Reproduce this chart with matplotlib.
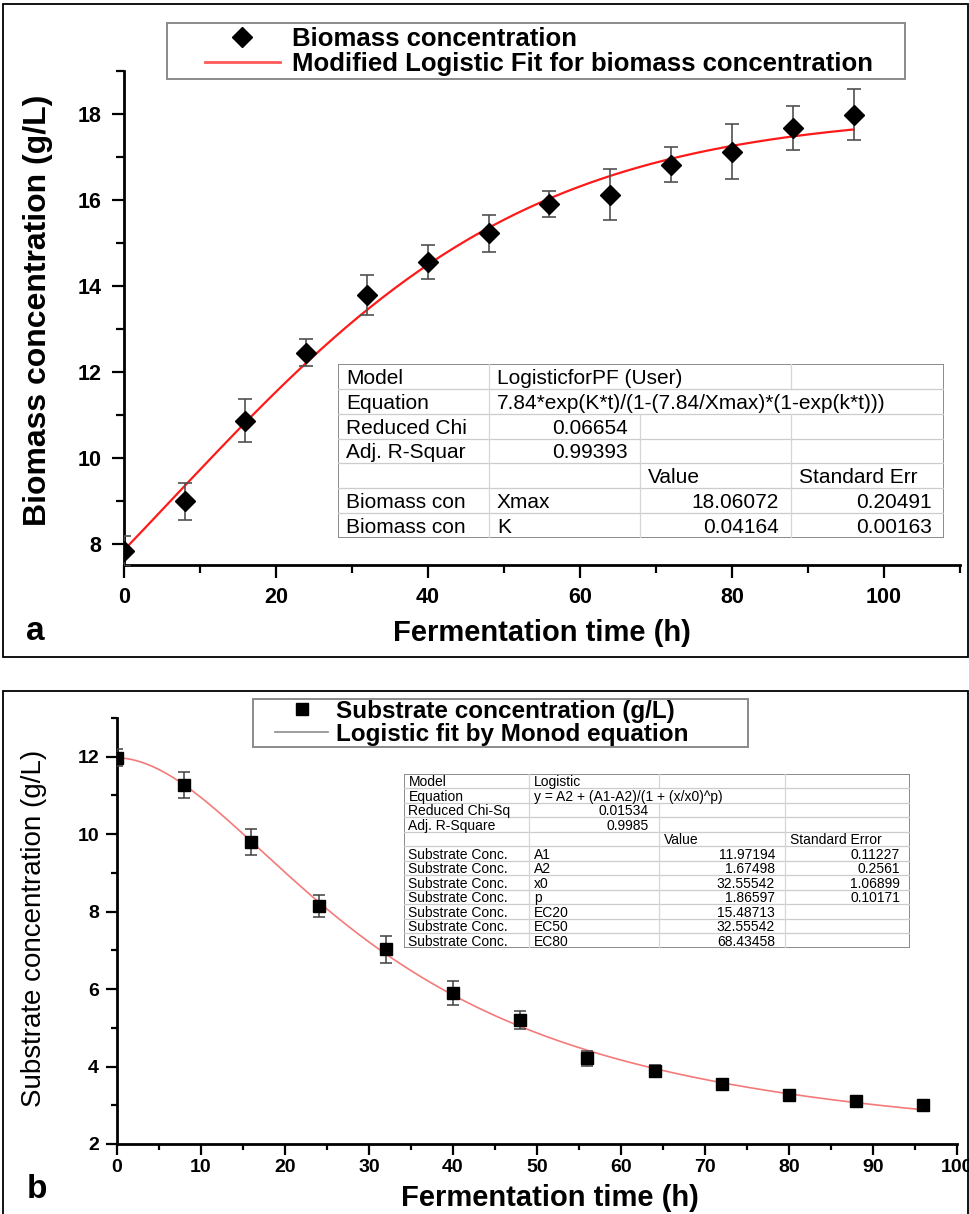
import numpy as np
import matplotlib.pyplot as plt
from matplotlib.patches import Rectangle
from matplotlib.lines import Line2D
from matplotlib.ticker import MultipleLocator

plt.rcParams['font.family'] = ['Liberation Sans', 'DejaVu Sans']

# ---- data ----
time_h = [0, 8, 16, 24, 32, 40, 48, 56, 64, 72, 80, 88, 96]
biomass = [7.83, 8.98, 10.86, 12.44, 13.78, 14.55, 15.22, 15.90, 16.12, 16.82, 17.12, 17.68, 17.98]
biomass_err = [0.35, 0.43, 0.50, 0.31, 0.47, 0.40, 0.43, 0.30, 0.60, 0.40, 0.64, 0.51, 0.59]
substrate = [11.98, 11.27, 9.80, 8.15, 7.03, 5.90, 5.21, 4.21, 3.89, 3.55, 3.27, 3.11, 3.00]
substrate_err = [0.22, 0.33, 0.33, 0.29, 0.35, 0.32, 0.23, 0.20, 0.15, 0.10, 0.08, 0.08, 0.05]

# fitted parameters shown in the tables
X0, Xmax, K = 7.84, 18.06072, 0.04164
A1, A2, x0, p = 11.97194, 1.67498, 32.55542, 1.86597

table_a_rows = [
    ["Model", "LogisticforPF (User)", "", ""],
    ["Equation", "7.84*exp(K*t)/(1-(7.84/Xmax)*(1-exp(k*t)))", "", ""],
    ["Reduced Chi", "0.06654", "", ""],
    ["Adj. R-Squar", "0.99393", "", ""],
    ["", "", "Value", "Standard Err"],
    ["Biomass con", "Xmax", "18.06072", "0.20491"],
    ["Biomass con", "K", "0.04164", "0.00163"],
]
table_b_rows = [
    ["Model", "Logistic", "", ""],
    ["Equation", "y = A2 + (A1-A2)/(1 + (x/x0)^p)", "", ""],
    ["Reduced Chi-Sq", "0.01534", "", ""],
    ["Adj. R-Square", "0.9985", "", ""],
    ["", "", "Value", "Standard Error"],
    ["Substrate Conc.", "A1", "11.97194", "0.11227"],
    ["Substrate Conc.", "A2", "1.67498", "0.2561"],
    ["Substrate Conc.", "x0", "32.55542", "1.06899"],
    ["Substrate Conc.", "p", "1.86597", "0.10171"],
    ["Substrate Conc.", "EC20", "15.48713", ""],
    ["Substrate Conc.", "EC50", "32.55542", ""],
    ["Substrate Conc.", "EC80", "68.43458", ""],
]

W, H = 970, 1214
fig = plt.figure(figsize=(W / 100, H / 100), dpi=100)


def box(x0p, y0p, x1p, y1p):
    # pixel box (top-left origin) -> figure fraction rect
    return [x0p / W, 1 - y1p / H, (x1p - x0p) / W, (y1p - y0p) / H]


def style_axis(ax, fs, major_len, minor_len, xpad, ypad):
    ax.spines['top'].set_visible(False)
    ax.spines['right'].set_visible(False)
    ax.spines['left'].set_linewidth(2)
    ax.spines['bottom'].set_linewidth(2)
    ax.tick_params(which='major', direction='out', length=major_len, width=1.6, labelsize=fs)
    ax.tick_params(which='minor', direction='out', length=minor_len, width=1.6)
    ax.tick_params(axis='x', pad=xpad)
    ax.tick_params(axis='y', pad=ypad)
    for lab in ax.get_xticklabels() + ax.get_yticklabels():
        lab.set_fontweight('bold')


def draw_table(x0p, y0p, x1p, y1p, cols, rows, skip, fs, pad_l, pad_r):
    tax = fig.add_axes(box(x0p, y0p, x1p, y1p))
    tax.set_xlim(x0p, x1p)
    tax.set_ylim(y1p, y0p)
    tax.axis('off')
    tax.add_patch(Rectangle((x0p, y0p), x1p - x0p, y1p - y0p, facecolor='white', edgecolor='none'))
    rh = (y1p - y0p) / len(rows)
    edges = [x0p] + cols + [x1p]
    for i, row in enumerate(rows):
        yt = y0p + i * rh
        if i > 0:
            tax.plot([x0p, x1p], [yt, yt], color='#cccccc', lw=0.9)
        for j, xb in enumerate(cols):
            if (i, j) not in skip:
                tax.plot([xb, xb], [yt, yt + rh], color='#d6d6d6', lw=0.9)
        for j, s in enumerate(row):
            if not s:
                continue
            try:
                float(s)
                tax.text(edges[j + 1] - pad_r, yt + rh / 2, s, ha='right',
                         va='center_baseline', fontsize=fs)
            except ValueError:
                tax.text(edges[j] + pad_l, yt + rh / 2, s, ha='left',
                         va='center_baseline', fontsize=fs)
    tax.add_patch(Rectangle((x0p, y0p), x1p - x0p, y1p - y0p, facecolor='none',
                            edgecolor='#8a8a8a', lw=1.4))


# panel frames
fig.add_artist(Rectangle((3 / W, 1 - 657 / H), 965 / W, 653 / H, transform=fig.transFigure,
                         facecolor='none', edgecolor='black', lw=1.3))
fig.add_artist(Rectangle((3 / W, 1 - 1240 / H), 965 / W, 549 / H, transform=fig.transFigure,
                         facecolor='none', edgecolor='black', lw=1.3))

# ---------------- panel a ----------------
ax_a = fig.add_axes(box(123.7, 71, 960, 565))
t_fit = np.linspace(0, 96, 300)
biomass_fit = X0 * np.exp(K * t_fit) / (1 - (X0 / Xmax) * (1 - np.exp(K * t_fit)))
ax_a.plot(t_fit, biomass_fit, color='#ff1a1a', lw=1.6, zorder=2)
ax_a.errorbar(time_h, biomass, yerr=biomass_err, fmt='none', ecolor='#505050',
              elinewidth=1.2, capsize=5, capthick=1.2, zorder=3)
ax_a.plot(time_h, biomass, ls='none', marker='D', ms=10.5, color='black', zorder=4)
ax_a.set_xlim(0, 110)
ax_a.set_ylim(7.5, 19)
ax_a.xaxis.set_major_locator(MultipleLocator(20))
ax_a.xaxis.set_minor_locator(MultipleLocator(10))
ax_a.yaxis.set_major_locator(MultipleLocator(2))
ax_a.yaxis.set_minor_locator(MultipleLocator(1))
style_axis(ax_a, 15.5, 9, 5.5, 7, 7)
ax_a.set_xlabel('Fermentation time (h)', fontsize=21, fontweight='bold')
ax_a.xaxis.set_label_coords(0.5, -0.11)
ax_a.set_ylabel('Biomass concentration (g/L)', fontsize=23, fontweight='bold')
ax_a.yaxis.set_label_coords(-0.085, 0.515)

handles_a = [Line2D([], [], ls='none', marker='D', ms=10.5, color='black'),
             Line2D([], [], color='#ff5a5a', lw=2)]
fig.add_artist(Rectangle((167 / W, 1 - 79 / H), 738 / W, 56 / H, transform=fig.transFigure,
                         facecolor='white', edgecolor='#8a8a8a', lw=1.4))
fig.legend(handles_a, ['Biomass concentration', 'Modified Logistic Fit for biomass concentration'],
           loc='upper left', bbox_to_anchor=(205 / W, 1 - 27 / H), frameon=False,
           borderpad=0, borderaxespad=0, handlelength=2.9, handletextpad=0.5,
           labelspacing=0.05, prop={'weight': 'bold', 'size': 18.5})

draw_table(338, 364, 944, 538, [489, 640, 791], table_a_rows,
           {(0, 1), (1, 1), (1, 2)}, 15, 8, 12)

fig.text(26 / W, 1 - 640 / H, 'a', fontsize=24, fontweight='bold', ha='left', va='baseline')

# ---------------- panel b ----------------
ax_b = fig.add_axes(box(117, 718, 957, 1144))
substrate_fit = A2 + (A1 - A2) / (1 + (t_fit / x0) ** p)
ax_b.plot(t_fit, substrate_fit, color='#f47a7a', lw=1.2, zorder=2)
ax_b.errorbar(time_h, substrate, yerr=substrate_err, fmt='none', ecolor='#404040',
              elinewidth=1.1, capsize=4.5, capthick=1.1, zorder=3)
ax_b.plot(time_h, substrate, ls='none', marker='s', ms=9, color='black', zorder=4)
ax_b.set_xlim(0, 100)
ax_b.set_ylim(2, 13)
ax_b.xaxis.set_major_locator(MultipleLocator(10))
ax_b.xaxis.set_minor_locator(MultipleLocator(5))
ax_b.yaxis.set_major_locator(MultipleLocator(2))
ax_b.yaxis.set_minor_locator(MultipleLocator(1))
style_axis(ax_b, 14, 8, 4.5, 2.5, 5)
ax_b.set_xlabel('Fermentation time (h)', fontsize=21, fontweight='bold')
ax_b.xaxis.set_label_coords(0.515, -0.095)
ax_b.set_ylabel('Substrate concentration (g/L)', fontsize=20)
ax_b.yaxis.set_label_coords(-0.083, 0.507)

handles_b = [Line2D([], [], ls='none', marker='s', ms=9, color='black'),
             Line2D([], [], color='#8c8c8c', lw=1.2)]
fig.add_artist(Rectangle((253 / W, 1 - 747 / H), 495 / W, 48 / H, transform=fig.transFigure,
                         facecolor='white', edgecolor='#8a8a8a', lw=1.4))
fig.legend(handles_b, ['Substrate concentration (g/L)', 'Logistic fit by Monod equation'],
           loc='upper left', bbox_to_anchor=(275 / W, 1 - 700 / H), frameon=False,
           borderpad=0, borderaxespad=0, handlelength=2.2, handletextpad=0.32,
           labelspacing=0.0, prop={'weight': 'bold', 'size': 17.5})

draw_table(403.5, 773.5, 910, 947.5, [529, 659, 785], table_b_rows,
           {(1, 1)}, 10, 5, 10)

fig.text(27 / W, 1 - 1198 / H, 'b', fontsize=24, fontweight='bold', ha='left', va='baseline')

fig.savefig('out.png', dpi=100, facecolor='white')
